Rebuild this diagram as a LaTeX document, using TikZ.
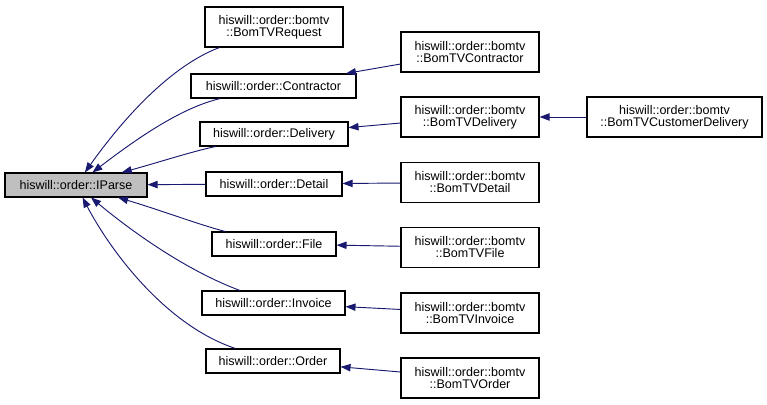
\documentclass[tikz,border=0pt]{standalone}
\usepackage{fontspec}
\setmainfont{Liberation Sans}
\usetikzlibrary{arrows.meta}
\definecolor{edgecol}{HTML}{191970}
\definecolor{basefill}{HTML}{BFBFBF}
\tikzset{
  cls/.style={draw=black, line width=0.8pt, fill=white, inner sep=0pt, align=center,
    font=\fontsize{9.4}{9}\selectfont},
  basecls/.style={cls, fill=basefill},
  edge/.style={draw=edgecol, line width=0.7pt, -{Triangle[length=7.5pt,width=5.5pt]}},
}
\begin{document}
\begin{tikzpicture}[x=0.75pt,y=-0.75pt]
\useasboundingbox (0,0) rectangle (767,404);
% nodes
\node[basecls, minimum width=142*0.75pt, minimum height=24*0.75pt] (iparse) at (76,185) {hiswill::order::IParse};
\node[cls, minimum width=138*0.75pt, minimum height=40*0.75pt] (req) at (274,27) {hiswill::order::bomtv\\::BomTVRequest};
\node[cls, minimum width=165*0.75pt, minimum height=24*0.75pt] (con) at (273.5,86) {hiswill::order::Contractor};
\node[cls, minimum width=148*0.75pt, minimum height=24*0.75pt] (del) at (274,134) {hiswill::order::Delivery};
\node[cls, minimum width=136*0.75pt, minimum height=24*0.75pt] (det) at (274,184) {hiswill::order::Detail};
\node[cls, minimum width=124*0.75pt, minimum height=24*0.75pt] (fil) at (274,244) {hiswill::order::File};
\node[cls, minimum width=143*0.75pt, minimum height=24*0.75pt] (inv) at (273.5,303) {hiswill::order::Invoice};
\node[cls, minimum width=134*0.75pt, minimum height=24*0.75pt] (ord) at (273,361) {hiswill::order::Order};
\node[cls, minimum width=138*0.75pt, minimum height=40*0.75pt] (bcon) at (470,52) {hiswill::order::bomtv\\::BomTVContractor};
\node[cls, minimum width=138*0.75pt, minimum height=40*0.75pt] (bdel) at (470,117) {hiswill::order::bomtv\\::BomTVDelivery};
\node[cls, minimum width=138*0.75pt, minimum height=40*0.75pt] (bdet) at (470,182.5) {hiswill::order::bomtv\\::BomTVDetail};
\node[cls, minimum width=138*0.75pt, minimum height=40*0.75pt] (bfil) at (470,247.5) {hiswill::order::bomtv\\::BomTVFile};
\node[cls, minimum width=138*0.75pt, minimum height=40*0.75pt] (binv) at (470,313) {hiswill::order::bomtv\\::BomTVInvoice};
\node[cls, minimum width=138*0.75pt, minimum height=40*0.75pt] (bord) at (470,378) {hiswill::order::bomtv\\::BomTVOrder};
\node[cls, minimum width=175*0.75pt, minimum height=40*0.75pt] (bcd) at (674.5,117) {hiswill::order::bomtv\\::BomTVCustomerDelivery};
% edges to IParse
\draw[edge] (req) .. controls (165,68) and (115,130) .. (iparse);
\draw[edge] (con) .. controls (180,108) and (135,140) .. (iparse);
\draw[edge] (del) .. controls (190,152) and (160,162) .. (iparse);
\draw[edge] (det) -- (iparse);
\draw[edge] (fil) .. controls (200,225) and (160,210) .. (iparse);
\draw[edge] (inv) .. controls (185,270) and (130,230) .. (iparse);
\draw[edge] (ord) .. controls (165,325) and (110,250) .. (iparse);
% edges right column
\draw[edge] (bcon) -- (con);
\draw[edge] (bdel) -- (del);
\draw[edge] (bdet) -- (det);
\draw[edge] (bfil) -- (fil);
\draw[edge] (binv) -- (inv);
\draw[edge] (bord) -- (ord);
\draw[edge] (bcd) -- (bdel);
\end{tikzpicture}
\end{document}
